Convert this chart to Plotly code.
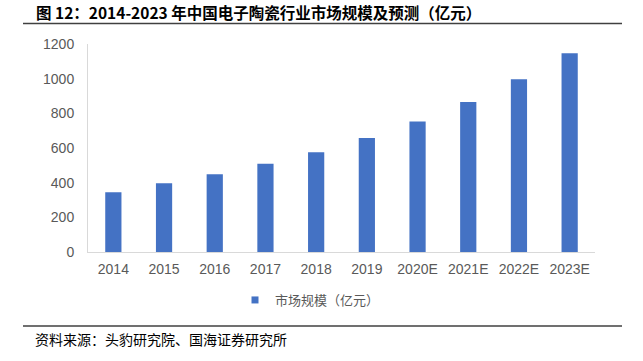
import plotly.graph_objects as go

categories = ["2014", "2015", "2016", "2017", "2018", "2019", "2020E", "2021E", "2022E", "2023E"]
market_size = [345, 397, 449, 509, 576, 657, 753, 865, 996, 1146]
y_ticks = [0, 200, 400, 600, 800, 1000, 1200]
series_name = "市场规模（亿元）"
title_text = "图 12：2014-2023 年中国电子陶瓷行业市场规模及预测（亿元）"
source_text = "资料来源：头豹研究院、国海证券研究所"

W, H = 643, 361
L, T = 88, 44
R = W - 595
B = H - 252
pw, ph = W - L - R, H - T - B

def px_x(p):
    return (p - L) / pw

def px_y(p):
    return (H - B - p) / ph

BLUE = "#4472C4"
GRAY = "#595959"
LAT = "Liberation Sans, Arial, sans-serif"
CJK = "Noto Sans CJK SC, sans-serif"

fig = go.Figure()
fig.add_trace(go.Bar(
    x=categories, y=market_size, marker=dict(color=BLUE, line=dict(width=0)),
    showlegend=False, width=0.32,
))
fig.add_trace(go.Scatter(
    x=[None], y=[None], mode="markers", name=series_name,
    marker=dict(symbol="square", size=7, color=BLUE),
))

fig.update_layout(
    width=W, height=H,
    margin=dict(l=L, r=R, t=T, b=B, pad=0),
    paper_bgcolor="white", plot_bgcolor="white",
    showlegend=True,
    legend=dict(orientation="h", x=px_x(235), y=px_y(300), xanchor="left", yanchor="middle",
                font=dict(family=CJK, size=13, color=GRAY), itemwidth=30,
                bgcolor="rgba(0,0,0,0)"),
    xaxis=dict(showgrid=False, showline=True, linecolor="#D9D9D9", linewidth=1,
               ticks="", tickfont=dict(family=LAT, size=14, color=GRAY),
               ticklabelstandoff=4, fixedrange=True),
    yaxis=dict(range=[0, 1200], tickvals=y_ticks, showgrid=False, showline=True,
               linecolor="#D9D9D9", linewidth=1, ticks="", zeroline=False,
               tickfont=dict(family=LAT, size=14, color=GRAY),
               ticklabelstandoff=10, fixedrange=True),
    annotations=[
        dict(text="<b>" + title_text + "</b>", xref="paper", yref="paper",
             x=px_x(34), y=px_y(12.5), xanchor="left", yanchor="middle", showarrow=False,
             font=dict(family=CJK, size=15.5, color="#000000")),
        dict(text=source_text, xref="paper", yref="paper",
             x=px_x(33), y=px_y(339), xanchor="left", yanchor="middle", showarrow=False,
             font=dict(family=CJK, size=14, color="#000000")),
    ],
    shapes=[
        dict(type="line", xref="paper", yref="paper", x0=px_x(23), x1=px_x(622),
             y0=px_y(23.5), y1=px_y(23.5), line=dict(color="#404040", width=1.5)),
        dict(type="line", xref="paper", yref="paper", x0=px_x(23), x1=px_x(622),
             y0=px_y(326), y1=px_y(326), line=dict(color="#404040", width=1.5)),
    ],
)

fig.write_html("out.html", config={"displayModeBar": False},
               post_script="document.body.style.margin='0px';")
